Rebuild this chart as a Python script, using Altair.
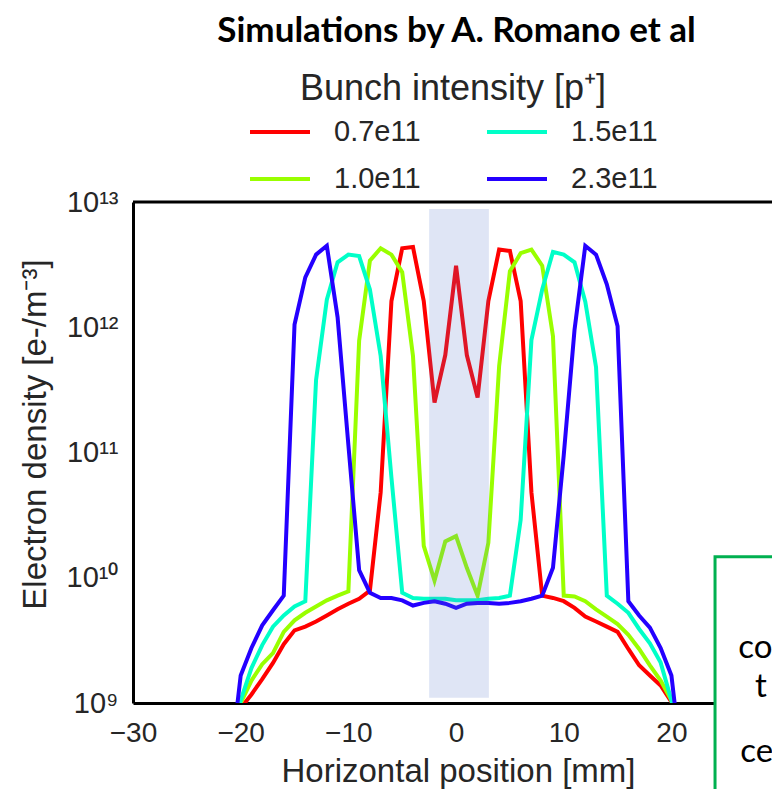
import altair as alt
import pandas as pd

# ---- data ----
x_mm = list(range(-21, 22))

intensity_labels = ["0.7e11", "1.0e11", "1.5e11", "2.3e11"]

dens_07 = [6.3e8, 9.1e8, 1.17e9, 1.55e9, 2.09e9, 2.95e9, 3.8e9, 4.07e9, 4.47e9, 5.0e9,
           5.6e9, 6.2e9, 6.8e9, 7.9e9, 4.8e10, 1.62e12, 4.27e12, 4.37e12, 1.62e12, 2.5e11,
           6.0e11, 3.1e12, 6.0e11, 2.75e11, 1.62e12, 4.17e12, 4.07e12, 1.62e12, 4.8e10, 7.2e9,
           6.9e9, 6.5e9, 5.75e9, 4.9e9, 4.47e9, 4.07e9, 3.7e9, 2.7e9, 2.0e9, 1.66e9,
           1.38e9, 1.02e9, 6.3e8]
dens_10 = [5.0e8, 1.0e9, 1.51e9, 2.04e9, 2.5e9, 3.7e9, 4.57e9, 5.25e9, 5.9e9, 6.6e9,
           7.2e9, 7.8e9, 7.8e11, 3.4e12, 4.27e12, 3.8e12, 2.75e12, 5.9e11, 1.8e10, 9.5e9,
           1.95e10, 2.15e10, 1.2e10, 7.2e9, 1.9e10, 4.9e11, 2.8e12, 3.9e12, 4.17e12, 3.1e12,
           8.5e11, 7.2e9, 7.1e9, 6.5e9, 5.6e9, 4.9e9, 4.27e9, 3.5e9, 2.7e9, 2.0e9,
           1.51e9, 1.05e9, 5.0e8]
dens_15 = [4.0e8, 1.05e9, 1.9e9, 2.9e9, 4.07e9, 5.0e9, 5.9e9, 6.5e9, 3.8e11, 1.66e12,
           3.3e12, 3.8e12, 3.7e12, 2.0e12, 5.9e11, 6.3e10, 7.6e9, 6.9e9, 6.8e9, 6.8e9,
           6.8e9, 6.6e9, 6.6e9, 6.6e9, 6.8e9, 6.9e9, 7.2e9, 2.9e10, 7.9e11, 2.0e12,
           4.0e12, 3.8e12, 3.3e12, 1.6e12, 4.8e11, 7.2e9, 6.2e9, 5.25e9, 3.9e9, 3.0e9,
           2.1e9, 1.05e9, 4.0e8]
dens_23 = [3.0e8, 1.66e9, 2.75e9, 4.17e9, 5.5e9, 7.2e9, 1.05e12, 2.5e12, 3.8e12, 4.47e12,
           1.2e12, 1.15e11, 1.15e10, 7.6e9, 6.9e9, 6.9e9, 6.6e9, 6.0e9, 6.3e9, 6.5e9,
           6.2e9, 5.75e9, 6.2e9, 6.3e9, 6.3e9, 6.2e9, 6.3e9, 6.5e9, 6.8e9, 7.2e9,
           1.2e10, 9.5e10, 9.5e11, 4.47e12, 3.8e12, 2.2e12, 1.02e12, 6.5e9, 5.0e9, 4.0e9,
           2.75e9, 1.66e9, 3.0e8]

legend_order = ["0.7e11", "1.0e11", "1.5e11", "2.3e11"]
legend_colors = ["#ff0000", "#99ff00", "#00ffc8", "#2400ff"]

x_ticks = [-30, -20, -10, 0, 10, 20]
y_ticks = [1e9, 1e10, 1e11, 1e12, 1e13]
y_tick_labels = ["10⁹", "10¹⁰", "10¹¹", "10¹²", "10¹³"]

x_domain = [-30, 29.34]
y_domain = [1e9, 1e13]

band_x = [-2.5, 3.05]
band_y = [1.1e9, 8.8e12]

note_box_x = [24.05, 40.0]
note_box_y = [1.0e8, 1.47e10]
note_text = ["co", "t", "ce"]
note_x = [26.2, 27.76, 26.4]
note_y = [2.29e9, 1.12e9, 3.38e8]

# ---- tables ----
rows = []
for lab, arr in zip(intensity_labels, [dens_07, dens_10, dens_15, dens_23]):
    for xv, yv in zip(x_mm, arr):
        rows.append({"x": xv, "density": yv, "intensity": lab})
df = pd.DataFrame(rows)

band_df = pd.DataFrame({"x": [band_x[0]], "x2": [band_x[1]], "y": [band_y[0]], "y2": [band_y[1]]})
top_df = pd.DataFrame({"x": [x_domain[0]], "x2": [x_domain[1]], "y": [y_domain[1]]})
box_df = pd.DataFrame({"x": [note_box_x[0]], "x2": [note_box_x[1]], "y": [note_box_y[0]], "y2": [note_box_y[1]]})
note_df = pd.DataFrame({"t": note_text, "x": note_x, "y": note_y})

FONT = "Liberation Sans"
GRAY = "#262626"

xscale = alt.Scale(domain=x_domain, nice=False, zero=False)
yscale = alt.Scale(type="log", domain=y_domain, nice=False)

label_expr = "[" + ",".join("'%s'" % s for s in y_tick_labels) + "][round(log(datum.value)/LN10)-9]"

lines = alt.Chart(df).mark_line(strokeWidth=4, clip=True).encode(
    x=alt.X("x:Q", scale=xscale,
            axis=alt.Axis(values=x_ticks, title="Horizontal position [mm]", grid=False, ticks=False,
                          domainColor="black", domainWidth=3, labelFont=FONT, labelFontSize=28,
                          labelColor=GRAY, labelPadding=16, titleFont=FONT, titleFontSize=33,
                          titleFontWeight="normal", titleColor=GRAY, titlePadding=8, titleX=325,
                          labelFlush=False, format="d")),
    y=alt.Y("density:Q", scale=yscale,
            axis=alt.Axis(values=y_ticks, labelExpr=label_expr, title="Electron density [e-/m⁻³]",
                          grid=False, ticks=False, domainColor="black", domainWidth=3,
                          labelFont=FONT, labelFontSize=29, labelColor=GRAY, labelPadding=15,
                          labelBaseline="middle", labelFlush=False,
                          titleFont=FONT, titleFontSize=33, titleFontWeight="normal",
                          titleColor=GRAY, titlePadding=14, titleY=232)),
    color=alt.Color("intensity:N", scale=alt.Scale(domain=legend_order, range=legend_colors),
                    legend=alt.Legend(orient="none", legendX=115, legendY=-130, columns=2,
                                      title="Bunch intensity [p⁺]", titleFont=FONT, titleFontSize=36,
                                      titleFontWeight="normal", titleColor=GRAY, titleAnchor="middle",
                                      titleLimit=1000, labelLimit=500,
                                      titlePadding=-8, labelFont=FONT, labelFontSize=29,
                                      labelColor=GRAY, labelOffset=22, symbolType="stroke",
                                      symbolSize=3600, symbolStrokeWidth=4, columnPadding=58,
                                      rowPadding=0)),
    detail="intensity:N",
)

band = alt.Chart(band_df).mark_rect(color="#5575ca", opacity=0.19).encode(
    x=alt.X("x:Q", scale=xscale), x2="x2", y=alt.Y("y:Q", scale=yscale), y2="y2")

top_rule = alt.Chart(top_df).mark_rule(color="black", strokeWidth=3).encode(
    x=alt.X("x:Q", scale=xscale), x2="x2", y=alt.Y("y:Q", scale=yscale))

box = alt.Chart(box_df).mark_rect(fill="white", stroke="#00b050", strokeWidth=3, clip=False).encode(
    x=alt.X("x:Q", scale=xscale), x2="x2", y=alt.Y("y:Q", scale=yscale), y2="y2")

notes = alt.Chart(note_df).mark_text(align="left", baseline="alphabetic", font="Lato",
                                     fontSize=33, color="black", clip=False).encode(
    x=alt.X("x:Q", scale=xscale), y=alt.Y("y:Q", scale=yscale), text="t:N")

chart = alt.layer(lines, band, top_rule, box, notes).properties(
    width=639, height=501,
    padding={"left": 133, "top": 202, "right": 0, "bottom": 86},
    autosize=alt.AutoSizeParams(type="none"),
    title=alt.TitleParams("Simulations by A. Romano et al", font="Lato", fontSize=35,
                          fontWeight="bold", color="black", anchor="middle", frame="group",
                          offset=22, dx=4, dy=27, baseline="alphabetic"),
).configure_view(stroke=None).configure(background="white")

chart.save("out.html", embed_options={"renderer": "svg", "actions": False})
